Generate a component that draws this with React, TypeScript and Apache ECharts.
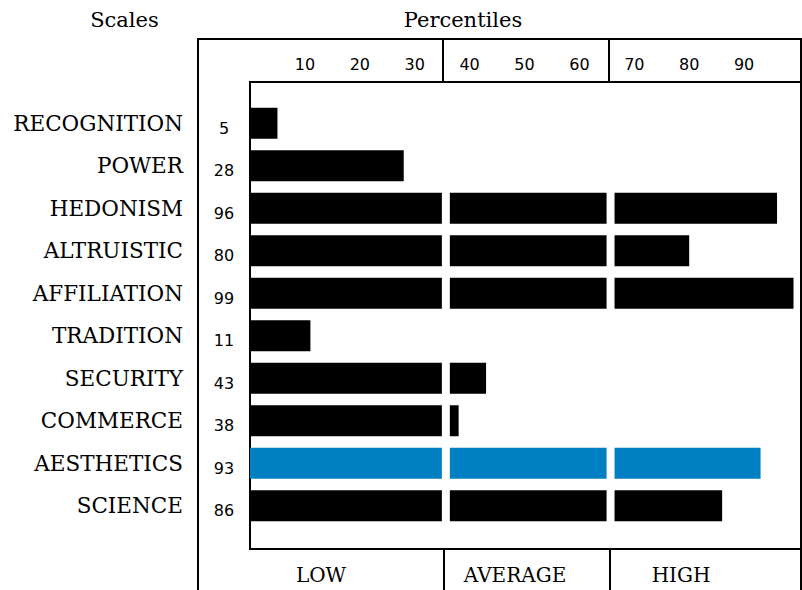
import React, { useEffect, useRef } from "react";
import * as echarts from "echarts";

const categories = [
  "RECOGNITION",
  "POWER",
  "HEDONISM",
  "ALTRUISTIC",
  "AFFILIATION",
  "TRADITION",
  "SECURITY",
  "COMMERCE",
  "AESTHETICS",
  "SCIENCE",
];
const percentiles = [5, 28, 96, 80, 99, 11, 43, 38, 93, 86];
const tickLabels = [10, 20, 30, 40, 50, 60, 70, 80, 90];
const bandLabels = ["LOW", "AVERAGE", "HIGH"];
const highlighted = "AESTHETICS";

// band breaks (percentile) where the bars are interrupted by a white gap
const breaks = [34.95, 64.95];
const gapWidth = 1.45;

const BLACK = "#000000";
const BLUE = "#0080C3";
const SERIF = "DejaVu Serif";
const SANS = "DejaVu Sans";

function segments(v: number) {
  const s1 = breaks[0] + gapWidth;
  const s2 = breaks[1] + gapWidth;
  const low = Math.min(v, breaks[0]);
  const gap1 = v > s1 ? gapWidth : 0;
  const avg = Math.max(Math.min(v, breaks[1]) - s1, 0);
  const gap2 = v > s2 ? gapWidth : 0;
  const high = Math.max(v - s2, 0);
  return [low, gap1, avg, gap2, high];
}

export default function App() {
  const ref = useRef<HTMLDivElement>(null);
  useEffect(() => {
    if (!ref.current) return;
    const chart = echarts.init(ref.current, undefined, { renderer: "svg" });
    const segs = percentiles.map(segments);
    const names = ["low", "gap1", "average", "gap2", "high"];
    const series = names.map((name, k) => ({
      name,
      type: "bar",
      stack: "p",
      barWidth: 31,
      yAxisIndex: 0,
      silent: true,
      data: segs.map((s, i) => ({
        value: s[k],
        itemStyle: {
          color:
            k === 1 || k === 3
              ? "rgba(0,0,0,0)"
              : categories[i] === highlighted
              ? BLUE
              : BLACK,
        },
      })),
    }));

    const gridLeft = 250;
    const boxRight = 801;
    const boxTop = 82;
    const boxBottom = 549;
    const frameLeft = 198;
    const frameTop = 39;
    const headerDividers = [443, 609];
    const footerDividers = [444, 610];
    const bandLabelX = [321, 515, 681];

    const lineStyle = { stroke: BLACK, lineWidth: 2 };
    const graphics: any[] = [
      {
        type: "rect",
        shape: { x: frameLeft, y: frameTop, width: boxRight - frameLeft, height: 600 },
        style: { fill: "none", ...lineStyle },
      },
      {
        type: "rect",
        shape: { x: gridLeft, y: boxTop, width: boxRight - gridLeft, height: boxBottom - boxTop },
        style: { fill: "none", ...lineStyle },
      },
      ...headerDividers.map((x) => ({
        type: "line",
        shape: { x1: x, y1: frameTop, x2: x, y2: boxTop },
        style: lineStyle,
      })),
      ...footerDividers.map((x) => ({
        type: "line",
        shape: { x1: x, y1: boxBottom, x2: x, y2: 592 },
        style: lineStyle,
      })),
      {
        type: "text",
        x: 124.5,
        y: 20,
        style: { text: "Scales", font: `21px "${SERIF}"`, fill: BLACK, align: "center", verticalAlign: "middle" },
      },
      {
        type: "text",
        x: 463,
        y: 20,
        style: { text: "Percentiles", font: `21px "${SERIF}"`, fill: BLACK, align: "center", verticalAlign: "middle" },
      },
      ...bandLabels.map((t, i) => ({
        type: "text",
        x: bandLabelX[i],
        y: 575,
        style: { text: t, font: `20px "${SERIF}"`, fill: BLACK, align: "center", verticalAlign: "middle" },
      })),
    ];

    chart.setOption({
      animation: false,
      grid: { left: gridLeft, top: 102, width: 553, height: 425 },
      xAxis: {
        type: "value",
        position: "top",
        min: 0,
        max: 100,
        interval: 10,
        axisLine: { show: false },
        axisTick: { show: false },
        splitLine: { show: false },
        axisLabel: {
          formatter: (v: number) => (tickLabels.includes(v) ? String(v) : ""),
          fontFamily: SANS,
          fontSize: 16,
          color: BLACK,
          margin: 38,
          verticalAlign: "middle",
        },
      },
      yAxis: [
        {
          type: "category",
          data: categories,
          inverse: true,
          position: "left",
          axisLine: { show: false },
          axisTick: { show: false },
          splitLine: { show: false },
          axisLabel: {
            fontFamily: SERIF,
            fontSize: 21.5,
            color: BLACK,
            margin: 67,
          },
        },
        {
          type: "category",
          data: categories,
          inverse: true,
          position: "left",
          offset: 0,
          axisLine: { show: false },
          axisTick: { show: false },
          splitLine: { show: false },
          axisLabel: {
            formatter: (_v: string, i: number) => String(percentiles[i]),
            fontFamily: SANS,
            fontSize: 16,
            color: BLACK,
            align: "center",
            verticalAlign: "top",
            lineHeight: 10,
            margin: 26,
          },
        },
      ],
      series,
      graphic: graphics,
    });
    return () => chart.dispose();
  }, []);
  return (
    <div
      ref={ref}
      style={{ position: "absolute", left: 0, top: 0, width: 802, height: 590, background: "#fff" }}
    />
  );
}
